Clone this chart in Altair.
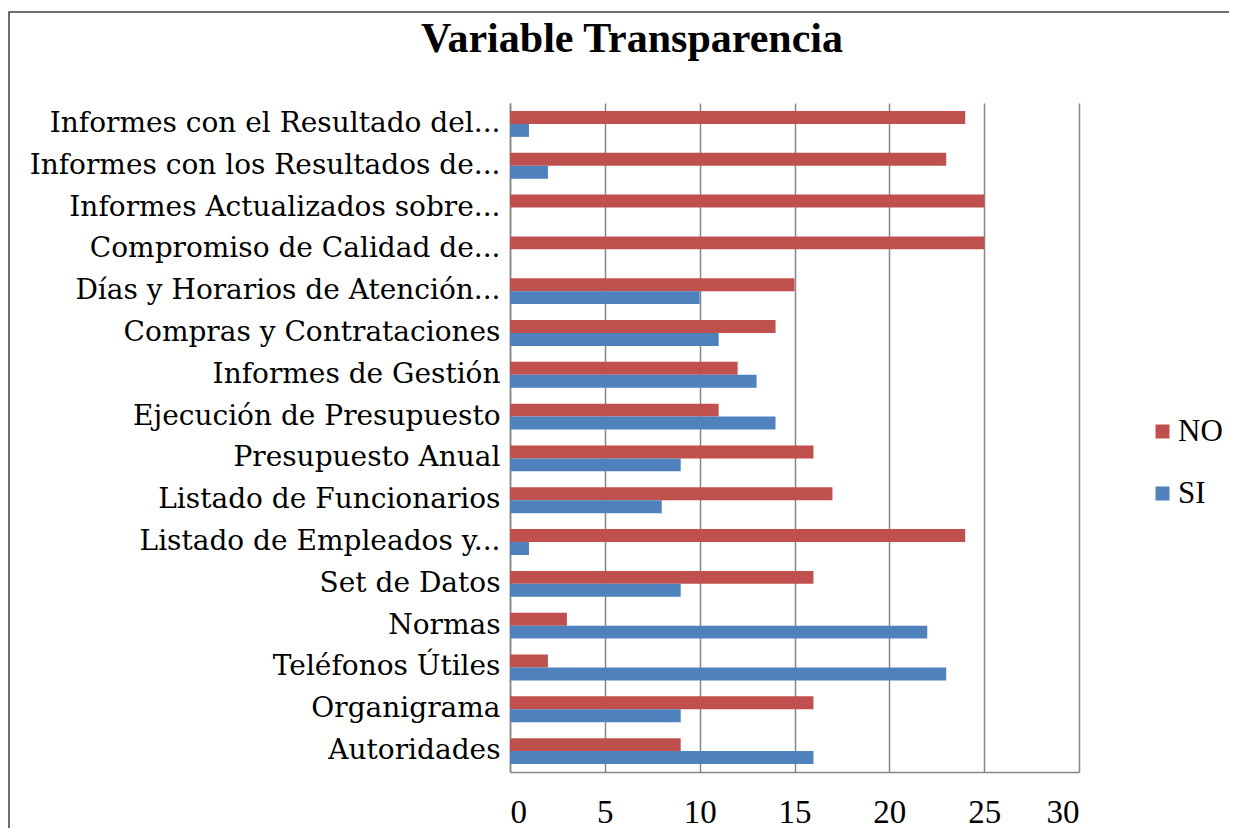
import altair as alt
import pandas as pd

title_text = "Variable Transparencia"
categories = [
    "Informes con el Resultado del...",
    "Informes con los Resultados de...",
    "Informes Actualizados sobre...",
    "Compromiso de Calidad de...",
    "Días y Horarios de Atención...",
    "Compras y Contrataciones",
    "Informes de Gestión",
    "Ejecución de Presupuesto",
    "Presupuesto Anual",
    "Listado de Funcionarios",
    "Listado de Empleados y...",
    "Set de Datos",
    "Normas",
    "Teléfonos Útiles",
    "Organigrama",
    "Autoridades",
]
no_values = [24, 23, 25, 25, 15, 14, 12, 11, 16, 17, 24, 16, 3, 2, 16, 9]
si_values = [1, 2, 0, 0, 10, 11, 13, 14, 9, 8, 1, 9, 22, 23, 9, 16]
series = ["NO", "SI"]
colors = ["#C0504D", "#4F81BD"]
x_ticks = [0, 5, 10, 15, 20, 25, 30]

rows = []
for c, n, s in zip(categories, no_values, si_values):
    rows.append({"cat": c, "serie": "NO", "val": n})
    rows.append({"cat": c, "serie": "SI", "val": s})
df = pd.DataFrame(rows)

FONT = "Liberation Serif"
LABEL_FONT = "DejaVu Serif"
W, H = 569, 669

bars = alt.Chart(df).mark_bar().encode(
    y=alt.Y("cat:N", sort=categories, title=None,
            scale=alt.Scale(paddingInner=0.38, paddingOuter=0.19),
            axis=alt.Axis(labelFont=LABEL_FONT, labelFontSize=28, labelColor="#000",
                          labelPadding=10, labelLimit=700, ticks=False,
                          domainColor="#868686", domainWidth=1.5, grid=False)),
    x=alt.X("val:Q", title=None,
            scale=alt.Scale(domain=[0, 30], nice=False),
            axis=alt.Axis(values=x_ticks, labelFont=FONT, labelFontSize=33,
                          labelColor="#000", labelPadding=24, ticks=False,
                          grid=True, gridColor="#868686", gridWidth=1.5,
                          domainColor="#868686", domainWidth=1.5)),
    yOffset=alt.YOffset("serie:N", sort=series,
                        scale=alt.Scale(domain=series, paddingInner=0, paddingOuter=0)),
    color=alt.Color("serie:N", scale=alt.Scale(domain=series, range=colors),
                    legend=alt.Legend(title=None, orient="none", legendX=637, legendY=313,
                                      labelFont=FONT, labelFontSize=31, labelColor="#000",
                                      symbolType="square", symbolSize=196,
                                      symbolStrokeWidth=0, rowPadding=30,
                                      labelOffset=0)),
)

border = alt.Chart(pd.DataFrame({"a": [0]})).mark_rect(
    fill="transparent", stroke="#404040", strokeWidth=1.5
).encode(
    x=alt.value(-501), x2=alt.value(900),
    y=alt.value(-91), y2=alt.value(900),
)

title = alt.Chart(pd.DataFrame({"t": [title_text]})).mark_text(
    font=FONT, fontSize=42, fontWeight="bold", color="#000",
    align="center", baseline="alphabetic"
).encode(
    text="t:N", x=alt.value(122), y=alt.value(-51),
)

chart = alt.layer(bars, border, title).properties(
    width=W, height=H,
    autosize=alt.AutoSizeParams(type="none"),
    padding={"left": 502, "top": 95, "right": 150, "bottom": 56},
).configure_view(strokeWidth=0)

chart.save("out.html", embed_options={"renderer": "svg", "actions": False})
